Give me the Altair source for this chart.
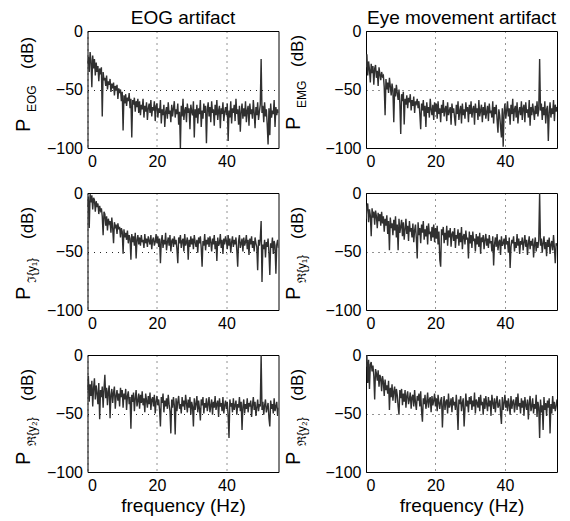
import altair as alt
import pandas as pd

# frequency grid (Hz), 0.25 Hz resolution
freq = [i * 0.25 for i in range(221)]

col_titles = ["EOG artifact", "Eye movement artifact"]
x_ticks = [0, 20, 40]
y_ticks = [0, -50, -100]
x_title = "frequency (Hz)"

label_main = ["P", "P", "P", "P", "P", "P"]
label_sub = ["EOG", "EMG", "ℑ{y₁}", "ℜ{y₁}", "ℜ{y₂}", "ℜ{y₂}"]
label_unit = ["(dB)"] * 6

psd_eog = [
    -28, -22, -35, -18, -25, -48, -21, -32, -24, -38, -27, -35, -30, -43, -32, -37, -31, -73, -35, -42,
    -40, -47, -38, -50, -43, -46, -41, -52, -45, -49, -44, -55, -47, -51, -46, -58, -49, -53, -50, -60,
    -52, -85, -55, -62, -54, -64, -57, -60, -53, -66, -58, -91, -59, -63, -57, -69, -60, -65, -58, -70,
    -60, -72, -63, -67, -58, -74, -64, -69, -61, -76, -66, -62, -70, -59, -73, -65, -68, -60, -77, -64,
    -62, -74, -66, -70, -59, -79, -67, -72, -63, -82, -69, -65, -75, -61, -71, -68, -78, -63, -73, -66,
    -60, -74, -67, -71, -62, -80, -69, -100, -64, -73, -58, -76, -68, -65, -78, -62, -70, -66, -84, -63,
    -69, -72, -60, -91, -67, -74, -63, -79, -66, -71, -59, -82, -68, -75, -62, -70, -64, -96, -67, -61,
    -73, -65, -78, -60, -70, -67, -81, -63, -72, -59, -76, -68, -64, -83, -66, -71, -61, -77, -69, -65,
    -72, -62, -94, -68, -74, -60, -79, -66, -70, -63, -77, -58, -71, -67, -80, -64, -86, -69, -62, -75,
    -66, -73, -60, -78, -68, -64, -81, -62, -71, -67, -75, -59, -70, -83, -65, -72, -61, -76, -69, -63,
    -24, -70, -64, -78, -61, -73, -67, -80, -97, -66, -89, -62, -74, -68, -71, -59, -82, -65, -72, -67,
    -70,
]

psd_emg = [
    -31, -20, -38, -26, -33, -44, -28, -36, -30, -46, -32, -29, -40, -34, -47, -31, -37, -42, -35, -39,
    -38, -48, -72, -41, -50, -44, -53, -40, -47, -55, -45, -51, -78, -49, -56, -46, -53, -59, -50, -62,
    -88, -54, -60, -52, -80, -58, -63, -55, -66, -57, -61, -54, -68, -59, -64, -56, -70, -60, -62, -58,
    -66, -60, -71, -84, -62, -68, -59, -73, -64, -82, -61, -70, -65, -74, -58, -67, -72, -63, -76, -61,
    -69, -62, -75, -60, -71, -66, -78, -63, -70, -59, -73, -67, -64, -77, -61, -72, -68, -65, -80, -62,
    -70, -66, -74, -81, -63, -71, -60, -76, -68, -64, -79, -62, -72, -67, -75, -61, -69, -65, -78, -63,
    -71, -60, -74, -67, -64, -80, -62, -70, -66, -76, -59, -73, -68, -63, -78, -65, -72, -61, -75, -69,
    -64, -77, -62, -70, -68, -74, -60, -79, -65, -71, -63, -76, -87, -67, -72, -82, -91, -66, -99, -70,
    -62, -75, -68, -60, -73, -66, -80, -63, -71, -58, -77, -67, -64, -74, -61, -79, -69, -65, -72, -60,
    -76, -66, -63, -78, -61, -70, -67, -74, -59, -81, -65, -72, -62, -69, -76, -64, -71, -60, -73, -67,
    -24, -68, -62, -76, -65, -72, -60, -79, -67, -64, -94, -70, -61, -74, -66, -71, -59, -77, -63, -69,
    -65,
]

psd_im_y1 = [
    -12, -3, -30, -1, -8, -2, -14, -4, -6, -16, -7, -12, -9, -18, -11, -15, -13, -20, -36, -16,
    -18, -28, -20, -32, -22, -26, -24, -34, -21, -30, -43, -25, -29, -27, -35, -26, -31, -29, -38, -30,
    -33, -52, -31, -38, -34, -40, -32, -43, -36, -39, -57, -35, -42, -37, -45, -34, -56, -40, -36, -44,
    -38, -45, -36, -42, -40, -47, -35, -43, -39, -46, -37, -41, -44, -36, -48, -40, -38, -45, -42, -35,
    -43, -37, -46, -39, -60, -41, -36, -47, -40, -44, -34, -49, -42, -38, -45, -36, -50, -41, -39, -46,
    -37, -44, -40, -48, -60, -38, -43, -36, -47, -41, -39, -50, -35, -45, -42, -38, -57, -40, -46, -37,
    -44, -39, -48, -36, -42, -46, -40, -51, -38, -43, -37, -47, -63, -41, -45, -35, -49, -40, -44, -38,
    -46, -37, -42, -50, -39, -44, -36, -48, -41, -58, -38, -45, -43, -35, -47, -40, -52, -39, -44, -37,
    -41, -48, -36, -45, -39, -51, -42, -37, -46, -40, -44, -38, -49, -63, -41, -36, -47, -43, -39, -50,
    -38, -45, -42, -36, -48, -40, -53, -39, -44, -37, -47, -41, -50, -38, -43, -46, -66, -40, -45, -39,
    -24, -76, -44, -48, -40, -55, -42, -46, -39, -51, -70, -43, -47, -38, -52, -41, -45, -69, -44, -40,
    -47,
]

psd_re_y1 = [
    -22, -12, -9, -25, -14, -19, -37, -13, -21, -16, -27, -15, -20, -30, -17, -24, -18, -28, -16, -26,
    -20, -33, -22, -28, -19, -35, -24, -49, -21, -30, -26, -36, -23, -32, -20, -38, -27, -49, -22, -34,
    -29, -23, -37, -25, -40, -31, -22, -35, -28, -41, -24, -33, -30, -38, -26, -42, -32, -27, -39, -56,
    -25, -36, -30, -43, -27, -34, -24, -40, -31, -37, -28, -44, -26, -35, -33, -41, -29, -38, -27, -42,
    -30, -39, -28, -44, -33, -57, -63, -31, -36, -29, -43, -34, -40, -28, -45, -32, -38, -30, -46, -35,
    -33, -41, -30, -47, -36, -39, -31, -45, -34, -42, -29, -48, -37, -35, -44, -32, -40, -38, -56, -33,
    -43, -36, -47, -33, -41, -39, -50, -35, -44, -37, -46, -34, -52, -38, -42, -36, -48, -40, -35, -45,
    -39, -47, -36, -43, -41, -50, -37, -62, -44, -38, -46, -35, -49, -42, -40, -53, -37, -45, -43, -39,
    -48, -36, -44, -41, -51, -38, -64, -46, -40, -43, -37, -50, -42, -47, -35, -45, -39, -52, -41, -44,
    -38, -49, -42, -36, -46, -40, -53, -43, -37, -48, -41, -45, -39, -55, -44, -38, -50, -42, -47, -40,
    0, -45, -39, -51, -43, -37, -48, -42, -54, -40, -46, -38, -52, -44, -41, -49, -36, -47, -60, -43,
    -45,
]

psd_re_y2_eog = [
    -30, -18, -40, -25, -35, -22, -44, -28, -20, -38, -26, -33, -42, -24, -55, -30, -36, -27, -45, -29,
    -17, -37, -28, -43, -31, -26, -54, -34, -29, -41, -32, -27, -46, -35, -30, -39, -33, -44, -28, -36,
    -30, -45, -33, -38, -29, -47, -35, -31, -42, -36, -63, -34, -40, -32, -48, -37, -30, -44, -39, -33,
    -46, -34, -41, -31, -43, -37, -49, -33, -39, -45, -35, -42, -32, -47, -38, -36, -44, -34, -50, -40,
    -35, -43, -38, -47, -61, -36, -41, -33, -49, -39, -44, -37, -46, -34, -42, -48, -67, -38, -45, -36,
    -43, -68, -37, -48, -40, -35, -46, -42, -50, -36, -44, -39, -47, -34, -41, -49, -38, -45, -36, -51,
    -40, -44, -61, -37, -47, -42, -35, -49, -39, -46, -56, -38, -43, -36, -50, -41, -45, -37, -48, -42,
    -36, -49, -43, -38, -51, -40, -45, -35, -47, -42, -39, -53, -37, -44, -41, -48, -36, -50, -43, -39,
    -46, -40, -52, -71, -38, -44, -41, -49, -37, -47, -43, -39, -51, -42, -45, -36, -48, -40, -64, -44,
    -38, -50, -42, -46, -37, -49, -41, -44, -39, -53, -43, -36, -47, -40, -52, -45, -38, -48, -42, -44,
    0, -47, -40, -51, -43, -38, -49, -45, -41, -54, -61, -39, -46, -42, -50, -37, -48, -44, -40, -52,
    -45,
]

psd_re_y2_eye = [
    -10, 0, -24, -4, -29, -8, -6, -14, -9, -18, -38, -12, -16, -22, -13, -27, -17, -20, -31, -18,
    -23, -35, -21, -30, -26, -33, -22, -47, -28, -36, -25, -39, -31, -27, -41, -29, -34, -44, -51, -30,
    -37, -29, -43, -33, -40, -30, -45, -35, -31, -42, -38, -32, -46, -36, -34, -44, -30, -41, -47, -35,
    -39, -33, -44, -31, -48, -57, -37, -42, -34, -46, -40, -32, -45, -38, -36, -49, -35, -43, -39, -33,
    -44, -37, -48, -34, -41, -46, -39, -36, -62, -43, -35, -47, -40, -38, -50, -33, -45, -42, -37, -49,
    -36, -43, -40, -47, -34, -45, -64, -38, -42, -35, -48, -41, -37, -61, -46, -33, -44, -39, -49, -36,
    -42, -35, -47, -39, -44, -32, -50, -38, -41, -45, -36, -48, -34, -43, -40, -51, -37, -46, -35, -42,
    -48, -36, -44, -39, -52, -34, -41, -46, -37, -49, -40, -35, -45, -43, -38, -50, -59, -36, -47, -41,
    -34, -45, -39, -48, -37, -43, -51, -35, -46, -40, -38, -49, -42, -36, -47, -33, -44, -41, -50, -37,
    -45, -39, -52, -36, -43, -47, -38, -55, -41, -35, -48, -44, -37, -50, -42, -46, -34, -53, -40, -45,
    -71, -38, -49, -43, -64, -36, -47, -41, -52, -39, -45, -37, -67, -42, -50, -35, -46, -40, -48, -44,
    -38,
]

series = [psd_eog, psd_emg, psd_im_y1, psd_re_y1, psd_re_y2_eog, psd_re_y2_eye]

W, H = 191, 117
FONT = "Liberation Sans"
LINE_COLOR = "#303030"

# y-label piece offsets relative to plot origin (px):
# (x_main, x_sub, x_unit, y_main, y_sub, y_unit)
label_pos = [
    (-58, -52, -55, 101, 81, 38),
    (-66, -60, -63, 99, 77, 36),
    (-58, -52, -55, 107, 90, 46),
    (-66, -60, -63, 107, 90, 46),
    (-58, -52, -55, 110, 91, 46),
    (-66, -60, -63, 110, 91, 46),
]


def panel(i):
    vals = series[i]
    n = min(len(freq), len(vals))
    df = pd.DataFrame({"f": freq[:n], "p": vals[:n]})
    row = i // 2
    col = i % 2
    xaxis = alt.Axis(
        values=x_ticks,
        title=x_title if row == 2 else None,
        format="d",
    )
    line = alt.Chart(df).mark_line(color=LINE_COLOR, strokeWidth=1.4, clip=True).encode(
        x=alt.X("f:Q", scale=alt.Scale(domain=[0, 55], nice=False, zero=False), axis=xaxis),
        y=alt.Y("p:Q", scale=alt.Scale(domain=[-100, 0], nice=False), axis=alt.Axis(values=y_ticks, title=None, format="d")),
    )
    xm, xsub, xu, ym, ys, yu = label_pos[i]
    t_main = alt.Chart(pd.DataFrame({"t": [label_main[i]]})).mark_text(
        angle=270, align="left", baseline="alphabetic", font=FONT, fontSize=20, color="black"
    ).encode(text="t:N", x=alt.value(xm), y=alt.value(ym))
    t_sub = alt.Chart(pd.DataFrame({"t": [label_sub[i]]})).mark_text(
        angle=270, align="left", baseline="alphabetic", font=FONT, fontSize=12, color="black"
    ).encode(text="t:N", x=alt.value(xsub), y=alt.value(ys))
    t_unit = alt.Chart(pd.DataFrame({"t": [label_unit[i]]})).mark_text(
        angle=270, align="left", baseline="alphabetic", font=FONT, fontSize=17, color="black"
    ).encode(text="t:N", x=alt.value(xu), y=alt.value(yu))
    props = dict(width=W, height=H)
    if row == 0:
        props["title"] = alt.TitleParams(
            col_titles[col], fontSize=19, font=FONT, fontWeight="normal", color="black",
            anchor="middle", offset=-5,
        )
    return alt.layer(line, t_main, t_sub, t_unit).properties(**props)


chart = alt.ConcatChart(
    concat=[panel(i) for i in range(6)],
    columns=2,
    spacing=alt.RowColnumber(row=45, column=87.5),
    bounds="flush",
    padding={"left": 4.5, "top": 0, "right": 0, "bottom": 0},
).configure_view(
    stroke="black", strokeWidth=1
).configure_axis(
    domain=False,
    ticks=False,
    grid=True,
    gridColor="black",
    gridDash=[1, 5],
    gridOpacity=0.85,
    labelFont=FONT,
    labelFontSize=16,
    labelColor="black",
    labelPadding=5,
    titleFont=FONT,
    titleFontSize=19,
    titleFontWeight="normal",
    titleColor="black",
    titlePadding=3,
)

chart.save("out.html", embed_options={"renderer": "svg", "actions": False})
